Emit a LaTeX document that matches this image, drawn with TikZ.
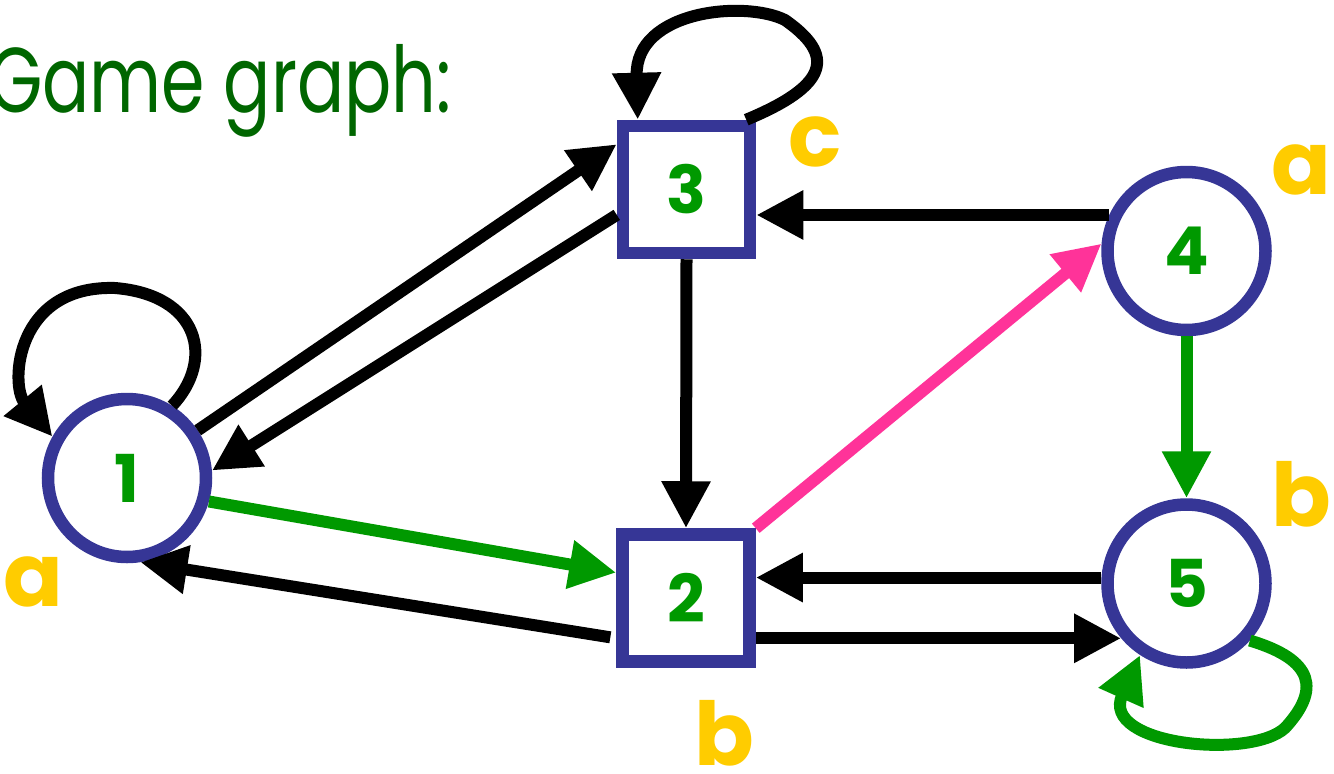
\documentclass[tikz,border=0pt]{standalone}
\usepackage{fontspec}
\setmainfont{Poppins}
\usetikzlibrary{arrows.meta,calc}
\definecolor{nodeblue}{HTML}{363696}
\definecolor{numgreen}{HTML}{009900}
\definecolor{titlegreen}{HTML}{006600}
\definecolor{labelgold}{HTML}{FFCC00}
\definecolor{movepink}{HTML}{FF3399}
\begin{document}
\begin{tikzpicture}[x=1pt,y=-1pt,
  state/.style={draw=nodeblue, line width=12.5pt, fill=white, inner sep=0pt,
    text=numgreen, font=\fontsize{66}{66}\selectfont\bfseries},
  roundstate/.style={state, circle, minimum size=158pt},
  squarestate/.style={state, rectangle, minimum size=127pt},
  move/.style={line width=12pt, -{Triangle[length=47pt,width=46pt]}},
  prop/.style={text=labelgold, anchor=base, inner sep=0pt,
    font=\fontsize{88}{88}\selectfont\bfseries},
]
\useasboundingbox (0,0) rectangle (1334,774);

% title
\node[anchor=base west, inner sep=0pt, text=titlegreen,
  font=\fontsize{92}{92}\selectfont] (title) at (-12,112)
  {\scalebox{0.76}[1]{Game graph:}};

% states
\node[roundstate]  (n1) at (127,478)   {1};
\node[squarestate] (n2) at (686,598)   {2};
\node[squarestate] (n3) at (686.5,189.5) {3};
\node[roundstate]  (n4) at (1186.5,251)  {4};
\node[roundstate]  (n5) at (1186.5,583.5) {5};

% propositions
\node[prop] (p1) at (33,606)   {a};
\node[prop] (p2) at (724,765)  {b};
\node[prop] (p3) at (815,166)  {c};
\node[prop] (p4) at (1301,194) {a};
\node[prop] (p5) at (1301,526) {b};

% moves
\draw[move] (n1.34) -- (n3.147);
\draw[move] (n3.200) -- (n1.5);
\draw[move] (n3.south) -- (n2.north);
\draw[move] (n4.155) -- (n4.155 -| n3.east);
\draw[move, numgreen] (n1.-16) -- (n2.160);
\draw[move, shorten <=6pt] (n2.210) -- (n1.-81);
\draw[move, movepink] (n2.north east) -- (n4.175);
\draw[move, numgreen] (n4.south) -- (n5.north);
\draw[move] (n5.176) -- (n5.176 -| n2.east);
\draw[move] (n5.220 -| n2.east) -- (n5.220);

% self loops
\draw[move] (n1.58) .. controls (215,360) and (200,295) .. (115,288)
  .. controls (15,285) and (10,385) .. (n1.151);
\draw[move] ($(n3.north east)+(-10,0)$) .. controls (830,85) and (835,55) .. (785,20)
  .. controls (745,0) and (635,10) .. ($(n3.north west)+(21,0)$);
\draw[move, numgreen] (n5.-42) .. controls (1315,660) and (1320,690) .. (1285,728)
  .. controls (1250,760) and (1100,745) .. (n5.-123);
\end{tikzpicture}
\end{document}
